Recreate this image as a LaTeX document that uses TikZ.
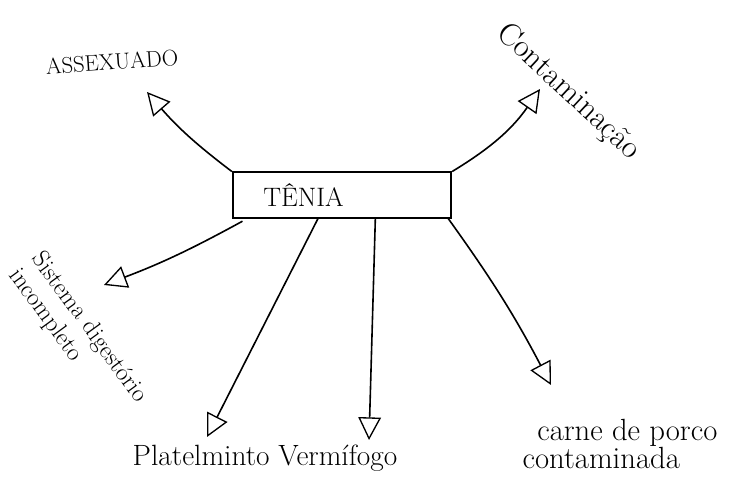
\documentclass[tikz,border=0pt]{standalone}
\usepackage{tikz}
\usetikzlibrary{arrows.meta,positioning}
\tikzset{
  maplink/.style={-{Triangle[open,length=17pt,width=17pt,line width=1pt]},line width=1.2pt},
  mapbox/.style={draw,line width=1.3pt,minimum width=164pt,minimum height=34pt,text width=118pt,inner xsep=22pt,align=left,font=\fontsize{20}{24}\selectfont},
  maplabel/.style={align=left,inner sep=1pt}
}
\begin{document}
\begin{tikzpicture}[x=0.75pt,y=-0.75pt]
\useasboundingbox (0,0) rectangle (734,477);
% central box
\node[mapbox] (tenia) at (342,195) {TÊNIA};
% labels
\node[maplabel,rotate=4,font=\fontsize{17}{20}\selectfont] (assexuado) at (112,62) {ASSEXUADO};
\node[maplabel,rotate=-43,font=\fontsize{24}{28}\selectfont] (contam) at (568,92) {Contaminação};
\node[maplabel,rotate=-54,font=\fontsize{18.5}{21}\selectfont] (sistema) at (78,336) {Sistema digestório\\incompleto};
\node[maplabel,font=\fontsize{22}{26}\selectfont] (platel) at (265,458) {Platelminto Vermífogo};
\node[maplabel,font=\fontsize{23}{21}\selectfont] (carne) at (620,444) {\hspace*{11pt}carne de porco\\contaminada};
% arrow ends
\coordinate (endA) at (147,92);
\coordinate (endB) at (540,89);
\coordinate (endC) at (104,285);
\coordinate (endD) at (207,437);
\coordinate (endE) at (369,440);
\coordinate (endF) at (551,385);
% links
\draw[maplink] (tenia.north west) to[bend left=6] (endA);
\draw[maplink] (tenia.north east) to[bend right=12] (endB);
\draw[maplink] ([xshift=8pt,yshift=-2pt]tenia.south west) to[bend left=4] (endC);
\draw[maplink] ([xshift=-18pt]tenia.south) -- (endD);
\draw[maplink] ([xshift=25pt]tenia.south) -- (endE);
\draw[maplink] ([xshift=-3pt]tenia.south east) to[bend left=4] (endF);
\end{tikzpicture}
\end{document}
